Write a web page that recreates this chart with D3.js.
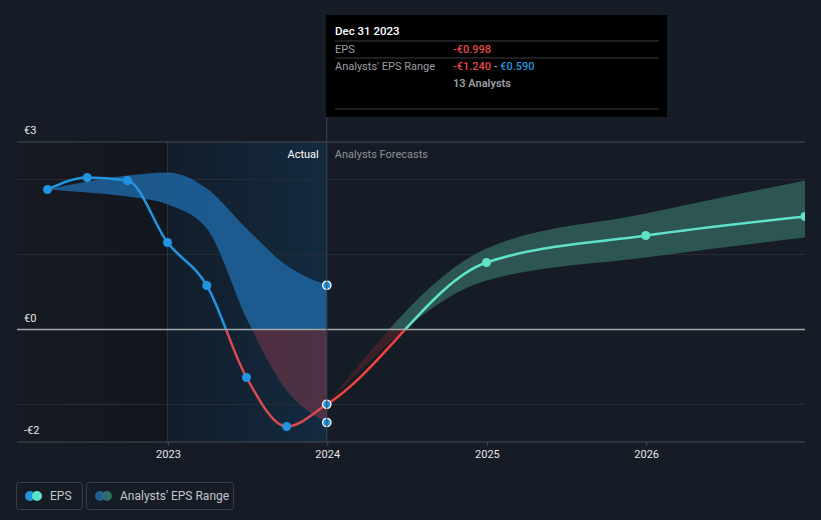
<!DOCTYPE html>
<html>
<head>
<meta charset="utf-8">
<script src="https://cdn.jsdelivr.net/npm/d3@7"></script>
<style>
  html, body { margin: 0; padding: 0; background: #161c25; }
  svg { display: block; font-family: Roboto, "Open Sans", sans-serif; }
</style>
</head>
<body>
<svg id="chart" width="821" height="520"></svg>
<script>
// ---------- data ----------
const epsDates = ["2022-03-31","2022-06-30","2022-09-30","2022-12-31","2023-03-31","2023-06-30","2023-09-30","2023-12-31"];
const epsValues = [1.867, 2.027, 1.987, 1.16, 0.587, -0.64, -1.293, -0.998];
const pastRangeHigh = [1.867, 1.973, 2.053, 2.093, 1.88, 1.347, 0.853, 0.59];
const pastRangeLow  = [1.867, 1.827, 1.773, 1.667, 1.347, 0.147, -0.813, -1.24];
const forecastDates = ["2023-12-31","2024-12-31","2025-12-31","2026-12-31"];
const forecastValues = [-0.998, 0.893, 1.253, 1.507];
const forecastHigh = [-0.998, 1.08, 1.547, 1.987];
const forecastLow  = [-0.998, 0.653, 0.96, 1.227];
const xTickLabels = ["2023","2024","2025","2026"];
const yTickValues = [2.5, 0, -1.5];
const yTickLabels = ["€3","€0","-€2"];
const gridValues = [2, 1, -1];
const legendLabels = ["EPS","Analysts' EPS Range"];
const tooltipTitle = "Dec 31 2023";
const tooltipEps = "-€0.998";
const tooltipRangeLow = "-€1.240";
const tooltipRangeHigh = "€0.590";
const tooltipAnalysts = "13 Analysts";

// ---------- setup ----------
const parse = d3.timeParse("%Y-%m-%d");
const svg = d3.select("#chart");
const pLeft = 17, pRight = 805, pTop = 142, pBottom = 442;
const x = d3.scaleTime().domain([new Date(2022,0,20), parse("2026-12-31")]).range([pLeft, pRight]);
const y = d3.scaleLinear().domain([-1.5, 2.5]).range([pBottom, pTop]);
const todayX = x(parse("2023-12-31"));
const actualStartX = x(parse("2022-12-31"));
const zeroY = y(0);

const past = epsDates.map((d,i)=>({date: parse(d), v: epsValues[i], hi: pastRangeHigh[i], lo: pastRangeLow[i]}));
const fut = forecastDates.map((d,i)=>({date: parse(d), v: forecastValues[i], hi: forecastHigh[i], lo: forecastLow[i]}));
const all = past.concat(fut.slice(1));

const defs = svg.append("defs");
function clip(id, x0, y0, x1, y1) {
  defs.append("clipPath").attr("id", id).append("rect")
    .attr("x", x0).attr("y", y0).attr("width", x1 - x0).attr("height", y1 - y0);
}
clip("plot", pLeft, 0, pRight, pBottom);
clip("pastAbove", pLeft, 0, todayX, zeroY);
clip("pastBelow", pLeft, zeroY, todayX, pBottom + 20);
clip("futAbove", todayX, 0, pRight, zeroY);
clip("futBelow", todayX, zeroY, pRight, pBottom + 20);

const gPast = defs.append("linearGradient").attr("id","pastBg").attr("x1","0").attr("x2","1").attr("y1","0").attr("y2","0");
gPast.append("stop").attr("offset","0").attr("stop-color","#161b23");
gPast.append("stop").attr("offset","1").attr("stop-color","#12161d");
const gAct = defs.append("linearGradient").attr("id","actBg").attr("x1","0").attr("x2","1").attr("y1","0").attr("y2","0");
gAct.append("stop").attr("offset","0").attr("stop-color","#121d2a");
gAct.append("stop").attr("offset","1").attr("stop-color","#132a40");

// ---------- backgrounds ----------
svg.append("rect").attr("x", pLeft).attr("y", pTop).attr("width", actualStartX - pLeft).attr("height", pBottom - pTop).attr("fill", "url(#pastBg)");
svg.append("rect").attr("x", actualStartX).attr("y", pTop).attr("width", todayX - actualStartX).attr("height", pBottom - pTop).attr("fill", "url(#actBg)");
svg.append("line").attr("x1", actualStartX).attr("x2", actualStartX).attr("y1", pTop).attr("y2", pBottom)
  .attr("stroke", "rgba(40,90,140,0.45)").attr("stroke-width", 1);

// grid
svg.selectAll(".grid").data(gridValues).enter().append("line")
  .attr("x1", pLeft).attr("x2", pRight).attr("y1", d=>y(d)).attr("y2", d=>y(d))
  .attr("stroke", "#252c37").attr("stroke-width", 1);
svg.append("line").attr("x1", pLeft).attr("x2", pRight).attr("y1", y(2.5)).attr("y2", y(2.5))
  .attr("stroke", "#474d57").attr("stroke-width", 1);

// ---------- bands ----------
const curve = d3.curveMonotoneX;
const area = d3.area().curve(curve).x(d=>x(d.date)).y0(d=>y(d.lo)).y1(d=>y(d.hi));
const plot = svg.append("g").attr("clip-path", "url(#plot)");
plot.append("path").datum(past).attr("d", area).attr("fill", "#1f64a0").attr("fill-opacity", 0.85).attr("clip-path","url(#pastAbove)");
plot.append("path").datum(past).attr("d", area).attr("fill", "rgba(215,70,85,0.30)").attr("clip-path","url(#pastBelow)");
plot.append("path").datum(fut).attr("d", area).attr("fill", "#2d5552").attr("clip-path","url(#futAbove)");
plot.append("path").datum(fut).attr("d", area).attr("fill", "rgba(190,60,60,0.22)").attr("clip-path","url(#futBelow)");

// zero line
svg.append("line").attr("x1", pLeft).attr("x2", pRight).attr("y1", zeroY).attr("y2", zeroY)
  .attr("stroke", "#a3a6ab").attr("stroke-width", 1.5);
// bottom axis
svg.append("line").attr("x1", pLeft).attr("x2", pRight).attr("y1", pBottom).attr("y2", pBottom)
  .attr("stroke", "#474d57").attr("stroke-width", 1);

// today line
svg.append("line").attr("x1", todayX).attr("x2", todayX).attr("y1", 117).attr("y2", pBottom)
  .attr("stroke", "#3a4656").attr("stroke-width", 1);

// ---------- line ----------
const line = d3.line().curve(curve).x(d=>x(d.date)).y(d=>y(d.v));
const lp = line(all);
plot.append("path").attr("d", lp).attr("fill","none").attr("stroke","#2394df").attr("stroke-width",2.5).attr("clip-path","url(#pastAbove)");
plot.append("path").attr("d", lp).attr("fill","none").attr("stroke","#d9494f").attr("stroke-width",2.5).attr("clip-path","url(#pastBelow)");
plot.append("path").attr("d", lp).attr("fill","none").attr("stroke","#5ee3c9").attr("stroke-width",2.5).attr("clip-path","url(#futAbove)");
plot.append("path").attr("d", lp).attr("fill","none").attr("stroke","#ef4340").attr("stroke-width",2.5).attr("clip-path","url(#futBelow)");

// dots
plot.selectAll(".pd").data(past.slice(0, -1)).enter().append("circle")
  .attr("cx", d=>x(d.date)).attr("cy", d=>y(d.v)).attr("r", 4.5).attr("fill", "#2394df");
plot.selectAll(".fd").data(fut.slice(1)).enter().append("circle")
  .attr("cx", d=>x(d.date)).attr("cy", d=>y(d.v)).attr("r", 4.5).attr("fill", "#5ee3c9");
const lastP = past[past.length-1];
plot.selectAll(".td").data([lastP.hi, lastP.v, lastP.lo]).enter().append("circle")
  .attr("cx", x(lastP.date)).attr("cy", d=>y(d)).attr("r", 4.2)
  .attr("fill", "#2394df").attr("stroke", "#ffffff").attr("stroke-width", 1.3);

// ---------- axes labels ----------
const xTickDates = xTickLabels.map(s=>parse(s + "-01-01"));
const xAxis = d3.axisBottom(x).tickValues(xTickDates).tickFormat((d,i)=>xTickLabels[i]).tickSize(4).tickPadding(4);
const gx = svg.append("g").attr("transform", `translate(0,${pBottom})`).call(xAxis);
gx.select(".domain").remove();
gx.selectAll(".tick line").attr("stroke", "#474d57");
gx.selectAll(".tick text").attr("fill", "#e6e6e6").attr("font-size", 11).attr("font-family", "Roboto, sans-serif");

svg.selectAll(".ylab").data(yTickValues).enter().append("text")
  .attr("x", 24).attr("y", d=>y(d) - 8).attr("fill", "#e6e6e6").attr("font-size", 11)
  .text((d,i)=>yTickLabels[i]);

svg.append("text").attr("x", todayX - 8).attr("y", 158).attr("text-anchor","end")
  .attr("fill","#ffffff").attr("font-size", 11).text("Actual");
svg.append("text").attr("x", todayX + 8).attr("y", 158)
  .attr("fill","#8c9097").attr("font-size", 11).text("Analysts Forecasts");

// ---------- tooltip ----------
const tt = svg.append("g");
tt.append("rect").attr("x", 326).attr("y", 15).attr("width", 341).attr("height", 102).attr("fill", "#000000");
tt.append("text").attr("x", 335).attr("y", 35).attr("fill", "#ffffff").attr("font-size", 11.5).attr("font-weight", 500).text(tooltipTitle);
[41, 58, 109].forEach(yy => tt.append("line").attr("x1", 335).attr("x2", 659).attr("y1", yy).attr("y2", yy).attr("stroke", "#3c3f44"));
tt.append("text").attr("x", 335).attr("y", 53).attr("fill", "#9a9da2").attr("font-size", 11).text("EPS");
tt.append("text").attr("x", 453).attr("y", 53).attr("fill", "#e8484a").attr("font-size", 11).attr("font-weight", 500).text(tooltipEps);
tt.append("text").attr("x", 335).attr("y", 70).attr("fill", "#9a9da2").attr("font-size", 11).text("Analysts' EPS Range");
const rt = tt.append("text").attr("x", 453).attr("y", 70).attr("font-size", 11).attr("font-weight", 500);
rt.append("tspan").attr("fill", "#e8484a").text(tooltipRangeLow);
rt.append("tspan").attr("fill", "#9a9da2").text(" - ");
rt.append("tspan").attr("fill", "#2394df").text(tooltipRangeHigh);
tt.append("text").attr("x", 453).attr("y", 87).attr("fill", "#9a9da2").attr("font-size", 11).attr("font-weight", 600).text(tooltipAnalysts);

// ---------- legend ----------
const lg = svg.append("g");
const boxes = [{x: 16, w: 66, c1: "#2394df", c2: "#5ee3c9"}, {x: 86, w: 147, c1: "#1f5f93", c2: "#2f6d6a"}];
boxes.forEach((b, i) => {
  lg.append("rect").attr("x", b.x + 0.5).attr("y", 482.5).attr("width", b.w).attr("height", 27).attr("rx", 3)
    .attr("fill", "none").attr("stroke", "#3b414b");
  lg.append("circle").attr("cx", b.x + 14).attr("cy", 496).attr("r", 5).attr("fill", b.c1);
  lg.append("circle").attr("cx", b.x + 21).attr("cy", 496).attr("r", 5).attr("fill", b.c2);
  lg.append("text").attr("x", b.x + 34).attr("y", 500).attr("fill", "#c3c6cb").attr("font-size", 12).text(legendLabels[i]);
});
</script>
</body>
</html>
